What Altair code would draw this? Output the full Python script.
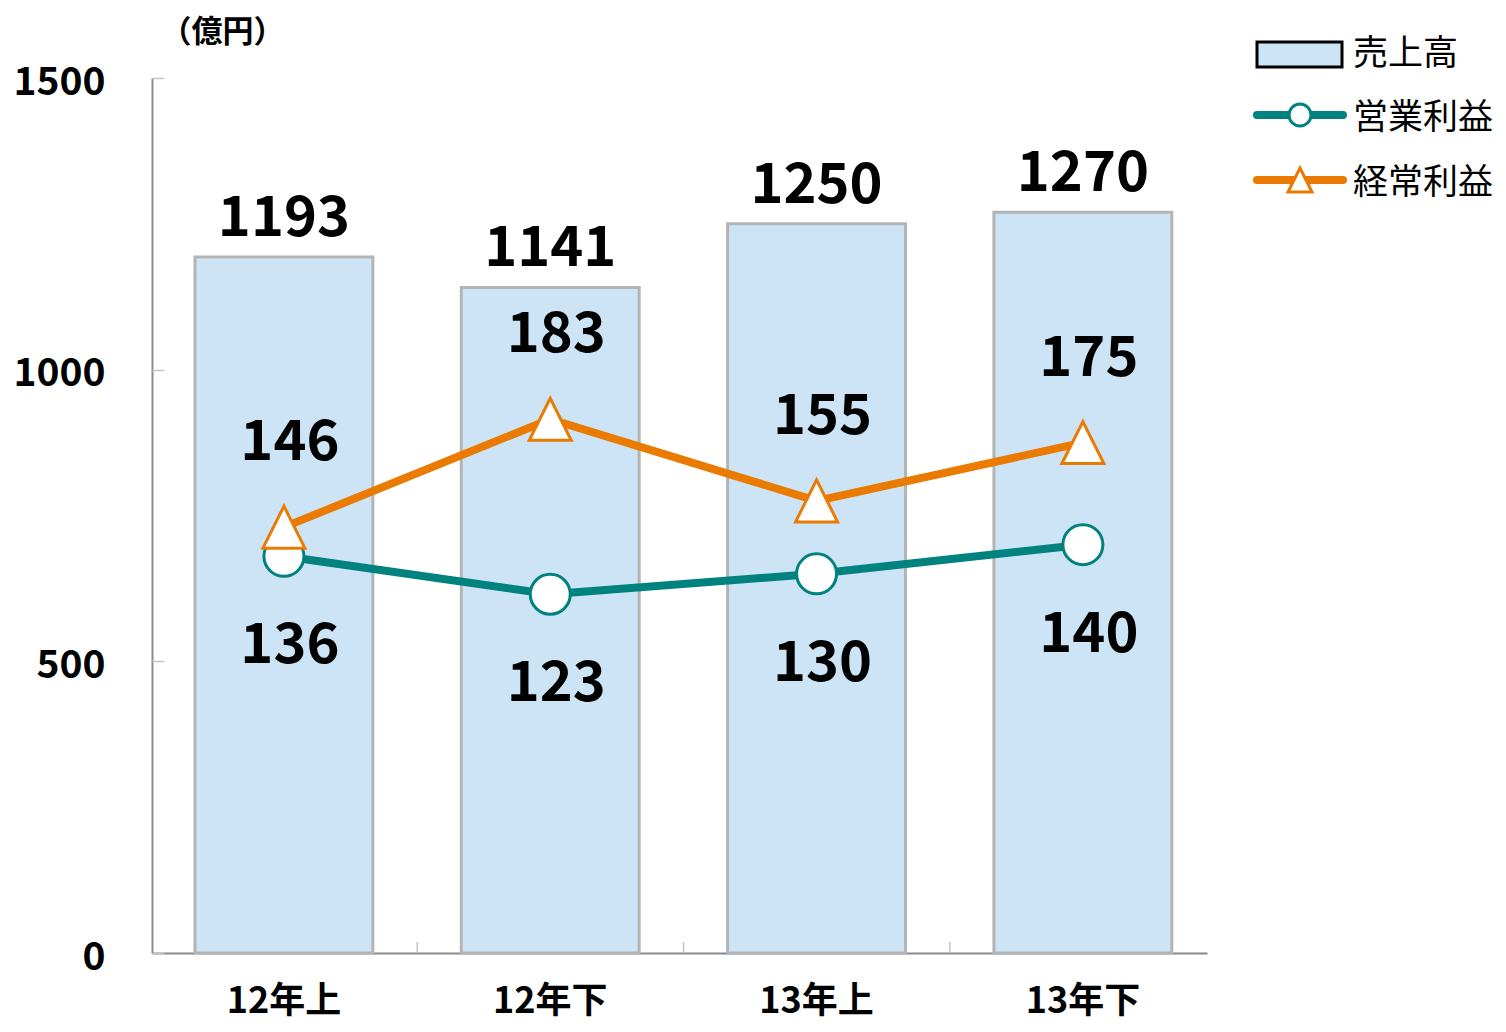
import altair as alt
import pandas as pd

categories = ["12年上", "12年下", "13年上", "13年下"]
sales = [1193, 1141, 1250, 1270]
operating_profit = [136, 123, 130, 140]
ordinary_profit = [146, 183, 155, 175]
y_ticks = [0, 500, 1000, 1500]
profit_ticks = [0, 100, 200, 300]
legend_labels = ["売上高", "営業利益", "経常利益"]

df = pd.DataFrame({"cat": categories, "sales": sales,
                   "op": operating_profit, "ord": ordinary_profit})

FONT = "Noto Sans CJK JP"
W, H = 1055, 875
BAR_FILL = "#CCE4F6"
BAR_STROKE = "#B4B4B4"
TEAL = "#00827E"
ORANGE = "#EA7B00"
AXIS_GRAY = "#8A8A8A"
TICK_GRAY = "#C4C4C4"
TRI = "M0,-1L-1,1L1,1Z"

xscale = alt.Scale(domain=categories, paddingInner=0.332, paddingOuter=0.1467, align=0.55)
sscale = alt.Scale(domain=[0, 1500], nice=False)
pscale = alt.Scale(domain=[0, 300], nice=False)

x_none = alt.X("cat:N", scale=xscale, axis=None)

base = alt.Chart(df)

bars = base.mark_bar(fill=BAR_FILL, stroke=BAR_STROKE, strokeWidth=3).encode(
    x=alt.X("cat:N", scale=xscale, axis=alt.Axis(
        title=None, labelAngle=0, labelFont=FONT, labelFontSize=36,
        labelFontWeight="bold", labelColor="black", labelPadding=31,
        ticks=False, domainColor=AXIS_GRAY, domainWidth=2, grid=False)),
    y=alt.Y("sales:Q", scale=sscale, axis=alt.Axis(
        values=y_ticks, format="d", title="（億円）", titleAngle=0, titleX=70, titleY=-46,
        titleAlign="center", titleBaseline="middle", titleFont=FONT,
        titleFontSize=31, titleFontWeight="bold", titleColor="black",
        labelFont=FONT, labelFontSize=39, labelFontWeight="bold",
        labelColor="black", labelPadding=47, labelOffset=4, ticks=False, grid=False,
        domainColor=AXIS_GRAY, domainWidth=2)),
)

# inward tick marks on the category axis, at the boundaries between bands
x_ticks = base.transform_filter(alt.datum.cat != categories[0]).mark_rule(
    color=TICK_GRAY, strokeWidth=1.5, xOffset=-133).encode(
    x=x_none, y=alt.value(H - 11), y2=alt.value(H))

bar_text = base.mark_text(font=FONT, fontSize=56, fontWeight="bold",
                          baseline="alphabetic", dy=-21, color="black").encode(
    x=x_none, y=alt.Y("sales:Q", scale=sscale, axis=None), text="sales:Q")

op_line = base.mark_line(color=TEAL, strokeWidth=8).encode(
    x=x_none,
    y=alt.Y("op:Q", scale=pscale, axis=alt.Axis(
        orient="right", offset=-W, values=profit_ticks, labels=False,
        domain=False, tickSize=12, tickColor=TICK_GRAY, tickWidth=1.5,
        title=None, grid=False)),
)
op_pts = base.mark_point(shape="circle", filled=True, fill="white", stroke=TEAL,
                         strokeWidth=3, size=1600, opacity=1).encode(
    x=x_none, y=alt.Y("op:Q", scale=pscale, axis=None))
op_text = base.mark_text(font=FONT, fontSize=56, fontWeight="bold",
                         baseline="middle", dy=90, dx=6, color="black").encode(
    x=x_none, y=alt.Y("op:Q", scale=pscale, axis=None), text="op:Q")

ord_line = base.mark_line(color=ORANGE, strokeWidth=8).encode(
    x=x_none, y=alt.Y("ord:Q", scale=pscale, axis=None))
ord_pts = base.mark_point(shape=TRI, filled=True, fill="white", stroke=ORANGE,
                          strokeWidth=3, size=1764, opacity=1).encode(
    x=x_none, y=alt.Y("ord:Q", scale=pscale, axis=None))
ord_text = base.mark_text(font=FONT, fontSize=56, fontWeight="bold",
                          baseline="middle", dy=-84, dx=6, color="black").encode(
    x=x_none, y=alt.Y("ord:Q", scale=pscale, axis=None), text="ord:Q")

one = alt.Chart(pd.DataFrame({"k": [0]}))
leg_rect = one.mark_rect(fill=BAR_FILL, stroke="black", strokeWidth=3).encode(
    x=alt.value(1105), x2=alt.value(1190), y=alt.value(-36), y2=alt.value(-11))
leg_rule_op = one.mark_rule(color=TEAL, strokeWidth=8, strokeCap="round").encode(
    x=alt.value(1105), x2=alt.value(1191), y=alt.value(37))
leg_pt_op = one.mark_point(shape="circle", filled=True, fill="white", stroke=TEAL,
                           strokeWidth=3, size=484, opacity=1).encode(
    x=alt.value(1148), y=alt.value(37))
leg_rule_ord = one.mark_rule(color=ORANGE, strokeWidth=8, strokeCap="round").encode(
    x=alt.value(1105), x2=alt.value(1191), y=alt.value(102))
leg_pt_ord = one.mark_point(shape=TRI, filled=True, fill="white", stroke=ORANGE,
                            strokeWidth=3, size=576, opacity=1).encode(
    x=alt.value(1148), y=alt.value(102))
leg_texts = [
    one.mark_text(font=FONT, fontSize=35, align="left", baseline="middle",
                  color="black").encode(x=alt.value(1201), y=alt.value(yy),
                                        text=alt.value(lbl))
    for lbl, yy in zip(legend_labels, [-24, 40, 105])
]

chart = alt.layer(
    bars, x_ticks, bar_text, op_line, op_pts, op_text, ord_line, ord_pts, ord_text,
    leg_rect, leg_rule_op, leg_pt_op, leg_rule_ord, leg_pt_ord, *leg_texts
).resolve_scale(y="independent").resolve_axis(
    x="independent", y="independent"
).properties(
    width=W, height=H,
    autosize=alt.AutoSizeParams(type="none"),
    padding={"left": 144, "top": 70, "right": 291, "bottom": 71},
).configure_view(stroke=None)

chart.save("out.html", embed_options={"renderer": "svg", "actions": False})
